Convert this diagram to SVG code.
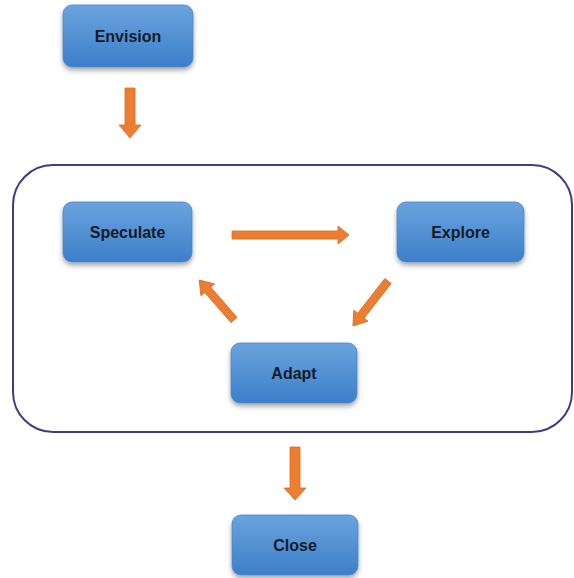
<svg xmlns="http://www.w3.org/2000/svg" width="574" height="578" viewBox="0 0 574 578">
  <defs>
    <linearGradient id="boxFill" x1="0" y1="0" x2="0" y2="1">
      <stop offset="0" stop-color="#6aa3de"/>
      <stop offset="1" stop-color="#3d7fc9"/>
    </linearGradient>
    <filter id="shadow" x="-20%" y="-20%" width="140%" height="150%">
      <feDropShadow dx="0" dy="3" stdDeviation="2.5" flood-color="#000" flood-opacity="0.35"/>
    </filter>
  </defs>
  <style>
    .box { fill: url(#boxFill); stroke: #4a86c8; stroke-width: 0.8; filter: url(#shadow); }
    .label { font-family: "Liberation Sans", Arial, sans-serif; font-weight: bold; font-size: 16px; fill: #141b28; text-anchor: middle; dominant-baseline: central; }
    .arrow { fill: #ed7d31; stroke: #d86a22; stroke-width: 0.8; stroke-linejoin: round; }
    .frame { fill: #ffffff; stroke: #3c3f7e; stroke-width: 2; }
  </style>

  <rect width="574" height="578" fill="#ffffff"/>

  <!-- iteration frame -->
  <rect class="frame" x="13" y="165" width="559" height="267" rx="40" ry="40"/>

  <g id="envision">
    <rect class="box" x="63" y="5" width="130" height="62" rx="9"/>
    <text class="label" x="128" y="36">Envision</text>
  </g>
  <g id="speculate">
    <rect class="box" x="63" y="202" width="129" height="60" rx="9"/>
    <text class="label" x="127.5" y="232">Speculate</text>
  </g>
  <g id="explore">
    <rect class="box" x="397" y="202" width="127" height="60" rx="9"/>
    <text class="label" x="460.5" y="232">Explore</text>
  </g>
  <g id="adapt">
    <rect class="box" x="231" y="343" width="126" height="60" rx="9"/>
    <text class="label" x="294" y="373">Adapt</text>
  </g>
  <g id="close">
    <rect class="box" x="232" y="515" width="126" height="60" rx="9"/>
    <text class="label" x="295" y="545">Close</text>
  </g>

  <g id="connectors">
    <!-- Envision -> Speculate -->
    <polygon class="arrow" points="125,88 135,88 135,125 141,125 130,138 119,125 125,125"/>
    <!-- Speculate -> Explore -->
    <polygon class="arrow" points="232,231 338,231 338,226 349,235 338,244 338,239 232,239"/>
    <!-- Explore -> Adapt -->
    <g transform="translate(388,281) rotate(128)">
      <polygon class="arrow" points="0,-4 44,-4 44,-9 57,0 44,9 44,4 0,4"/>
    </g>
    <!-- Adapt -> Speculate -->
    <g transform="translate(234,320) rotate(-131)">
      <polygon class="arrow" points="0,-4 40,-4 40,-9 53,0 40,9 40,4 0,4"/>
    </g>
    <!-- frame -> Close -->
    <polygon class="arrow" points="290,447 300,447 300,488 306,488 295,500 284,488 290,488"/>
  </g>
</svg>
